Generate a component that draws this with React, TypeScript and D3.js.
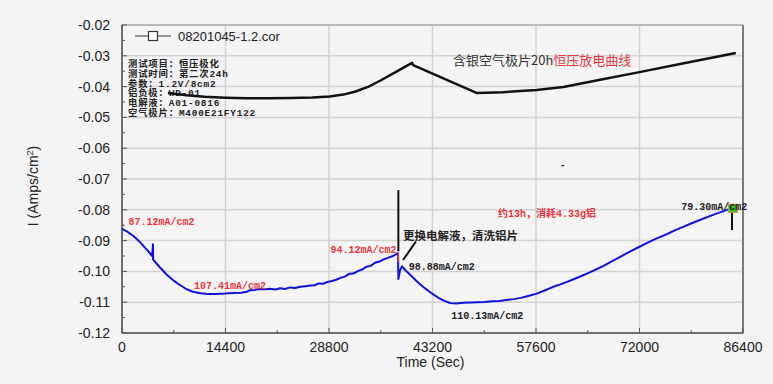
import { scaleLinear, line, range } from "d3";

// axis ticks
const xTicks = [0, 14400, 28800, 43200, 57600, 72000, 86400];
const yTicks = [-0.02, -0.03, -0.04, -0.05, -0.06, -0.07, -0.08, -0.09, -0.1, -0.11, -0.12];

// blue: current density of the discharge
const blueTime = [
  0, 800, 1600, 2500, 3400, 4200, 4310, 4330, 5200, 6200, 7200, 8100, 9000, 9900, 10900, 11900,
  13000, 14400, 15500, 16600, 17400, 17800, 18500, 19200, 20000, 20600, 21300, 22000, 22700,
  23400, 24100, 24800, 25500, 26200, 26800, 27400, 28000, 28600, 29200, 29800, 30400, 31000,
  31600, 32200, 32800, 33400, 34000, 34600, 35200, 35800, 36400, 37000, 37600, 38100, 38400,
  38450, 38700, 38960, 39500, 40200, 41000, 41800, 42600, 43400, 44200, 45000, 45700, 46500,
  47500, 48500, 49500, 50500, 51500, 52500, 53500, 54500, 55500, 56500, 57600, 58800, 60000,
  61000, 62000, 63000, 64000, 65000, 66000, 67000, 68000, 69000, 70000, 71000, 72000, 73000,
  74000, 75000, 76000, 77000, 78000, 79000, 80400, 81500, 82500, 83500, 84600,
];
const blueCurrent = [
  -0.0862, -0.0872, -0.0885, -0.0905, -0.0928, -0.095, -0.0912, -0.0962, -0.0985, -0.101,
  -0.103, -0.1045, -0.1058, -0.1066, -0.1071, -0.1073, -0.1073, -0.1072, -0.107, -0.1069,
  -0.1066, -0.1061, -0.106, -0.1057, -0.1058, -0.1056, -0.1059, -0.1055, -0.1057, -0.1052,
  -0.1054, -0.105, -0.1048, -0.1046, -0.1045, -0.1039, -0.104, -0.1034, -0.1031, -0.1027,
  -0.1021, -0.1017, -0.1008, -0.1007, -0.0999, -0.0994, -0.0985, -0.0982, -0.0972, -0.0968,
  -0.0961, -0.0956, -0.0951, -0.0945, -0.0941, -0.1025, -0.0995, -0.0984, -0.0998, -0.1013,
  -0.1032, -0.1048, -0.1063, -0.1076, -0.1088, -0.1097, -0.1103, -0.1104, -0.1102, -0.1101,
  -0.11, -0.1099, -0.1097, -0.1096, -0.1093, -0.109, -0.1086, -0.108, -0.1073, -0.1062,
  -0.105, -0.1042, -0.1033, -0.1024, -0.1014, -0.1004, -0.0993, -0.0982, -0.0969, -0.0957,
  -0.0944, -0.0932, -0.092, -0.0908, -0.0897, -0.0887, -0.0877, -0.0866, -0.0856, -0.0846,
  -0.0833, -0.0823, -0.0814, -0.0806, -0.0797,
];

// black: second trace near the top
const blackTime = [
  6400, 9000, 11500, 14400, 17400, 20500, 23500, 26500, 28900, 30800, 32500, 34300, 35900, 38000,
  40350, 40500, 49400, 53000, 57700, 61400, 66000, 72000, 78000, 85400,
];
const blackCurrent = [
  -0.0421, -0.0428, -0.0433, -0.0436, -0.0438, -0.0438, -0.0437, -0.0435, -0.0432, -0.0426,
  -0.0416, -0.04, -0.0381, -0.0354, -0.0323, -0.033, -0.0421, -0.0418, -0.0411, -0.0401,
  -0.038, -0.0353, -0.0325, -0.0291,
];

// annotation labels
const labelText = ["87.12mA/cm2", "107.41mA/cm2", "94.12mA/cm2", "98.88mA/cm2", "110.13mA/cm2", "79.30mA/cm2", "约13h，消耗4.33g铝", "-"];
const labelTime = [900, 10000, 29000, 39900, 45800, 77800, 52300, 60900];
const labelCurrent = [-0.0836, -0.1044, -0.0926, -0.0984, -0.1142, -0.0787, -0.0812, -0.0652];
const labelRed = [true, true, true, false, false, false, true, false];

const infoLines = ["测试项目：恒压极化", "测试时间：第二次24h", "参数：1.2V/8cm2", "铝负极：WD-01", "电解液：A01-0816", "空气极片：M400E21FY122"];

const W = 773;
const H = 384;
const margin = { top: 25, right: 30, bottom: 51, left: 122 };
const bg = "#f4f4f4";
const red = "#e8363c";
const mono = "'Liberation Mono', 'Noto Sans CJK SC', monospace";
const sans = "'Liberation Sans', Arial, sans-serif";

export default function App() {
  const x = scaleLinear().domain([0, 86400]).range([margin.left, W - margin.right]);
  const y = scaleLinear().domain([-0.12, -0.02]).range([H - margin.bottom, margin.top]);

  const bluePts: [number, number][] = blueTime.map((t, i) => [t, blueCurrent[i]]);
  const blackPts: [number, number][] = blackTime.map((t, i) => [t, blackCurrent[i]]);
  const path = line<[number, number]>().x(d => x(d[0])).y(d => y(d[1]));

  const x0 = x(0), x1 = x(86400), y0 = y(-0.12), y1 = y(-0.02);
  const xMinor = range(7200, 86400, 14400);
  const yMinor = range(-0.115, -0.02, 0.01);

  return (
    <svg width={W} height={H} style={{ position: "absolute", left: 0, top: 0, background: bg }}>
      <rect width={W} height={H} fill={bg} />

      {/* grid */}
      {xTicks.map(t => (
        <line key={"gx" + t} x1={x(t)} x2={x(t)} y1={y1} y2={y0} stroke="#d2d2d2" strokeWidth={1.5} />
      ))}
      {yTicks.map(t => (
        <line key={"gy" + t} x1={x0} x2={x1} y1={y(t)} y2={y(t)} stroke="#d2d2d2" strokeWidth={1.5} />
      ))}

      {/* frame */}
      <rect x={x0} y={y1} width={x1 - x0} height={y0 - y1} fill="none" stroke="#9a9a9a" strokeWidth={1} />
      <line x1={x1} x2={x1} y1={y1} y2={y0} stroke="#666" strokeWidth={1.5} />
      <line x1={x0} x2={x0} y1={y1} y2={y0} stroke="#555" strokeWidth={1.5} />
      <line x1={x0} x2={x1} y1={y0} y2={y0} stroke="#555" strokeWidth={1.5} />

      {/* ticks */}
      {xTicks.map(t => (
        <g key={"tx" + t}>
          <line x1={x(t)} x2={x(t)} y1={y0} y2={y0 - 5} stroke="#555" />
          <text x={x(t)} y={y0 + 19} textAnchor="middle" fontFamily={sans} fontSize={14} fill="#222">{t}</text>
        </g>
      ))}
      {xMinor.map(t => (
        <line key={"mx" + t} x1={x(t)} x2={x(t)} y1={y0} y2={y0 - 3} stroke="#555" />
      ))}
      {yTicks.map(t => (
        <g key={"ty" + t}>
          <line x1={x0} x2={x0 + 5} y1={y(t)} y2={y(t)} stroke="#555" />
          <text x={x0 - 12} y={y(t) + 5} textAnchor="end" fontFamily={sans} fontSize={14} fill="#222">{t.toFixed(2)}</text>
        </g>
      ))}
      {yMinor.map(t => (
        <line key={"my" + t} x1={x0} x2={x0 + 3} y1={y(t)} y2={y(t)} stroke="#555" />
      ))}

      {/* axis titles */}
      <text x={x(43200) - 2} y={H - 17} textAnchor="middle" fontFamily={sans} fontSize={14} fill="#222">Time (Sec)</text>
      <text transform={`translate(38, 186) rotate(-90)`} textAnchor="middle" fontFamily={sans} fontSize={14} fill="#222">
        I (Amps/cm<tspan dy={-5} fontSize={9}>2</tspan><tspan dy={5}>)</tspan>
      </text>

      {/* legend */}
      <line x1={135} x2={171} y1={36} y2={36} stroke="#333" strokeWidth={1.2} />
      <rect x={148.5} y={31.5} width={9} height={9} fill="#fff" stroke="#333" strokeWidth={1.2} />
      <text x={178} y={41} fontFamily={sans} fontSize={13} fill="#222">08201045-1.2.cor</text>

      {/* info block */}
      {infoLines.map((s, i) => (
        <text key={s} x={128} y={67 + i * 9.8} fontFamily={mono} fontWeight="bold" fontSize={9.4} letterSpacing={0.8} fill="#222">{s}</text>
      ))}

      {/* title */}
      <text x={453} y={65} fontFamily="'Noto Sans CJK SC', sans-serif" fontSize={13} fill="#333">
        含银空气极片20h<tspan fill={red}>恒压放电曲线</tspan>
      </text>

      {/* traces */}
      <path d={path(blackPts) ?? ""} fill="none" stroke="#111" strokeWidth={2.5} strokeLinejoin="round" />
      <path d={path(bluePts) ?? ""} fill="none" stroke="#1010e0" strokeWidth={2} strokeLinejoin="round" />
      <line x1={x(38450)} x2={x(38450)} y1={y(-0.0941)} y2={y(-0.097)} stroke={red} strokeWidth={1.5} />

      {/* markers */}
      <line x1={x(38450)} x2={x(38450)} y1={y(-0.0736)} y2={y(-0.0935)} stroke="#111" strokeWidth={2} />
      <line x1={x(39100)} x2={x(40900)} y1={y(-0.0963)} y2={y(-0.0903)} stroke="#111" strokeWidth={2} />
      <text x={x(39100)} y={y(-0.0885) + 4} fontFamily={mono} fontWeight="bold" fontSize={11.5} fill="#222">更换电解液，清洗铝片</text>
      <line x1={x(84870)} x2={x(84870)} y1={y(-0.0797)} y2={y(-0.0866)} stroke="#111" strokeWidth={2} />
      <rect x={x(84990) - 4.5} y={y(-0.0795) - 4} width={9} height={8} fill="#22cc22" stroke="#d98a2a" strokeWidth={1} />

      {/* value labels */}
      {labelText.map((s, i) => (
        <text key={s} x={x(labelTime[i])} y={y(labelCurrent[i]) + 4} fontFamily={mono} fontWeight="bold" fontSize={10}
          fill={labelRed[i] ? red : "#222"}>{s}</text>
      ))}
    </svg>
  );
}
